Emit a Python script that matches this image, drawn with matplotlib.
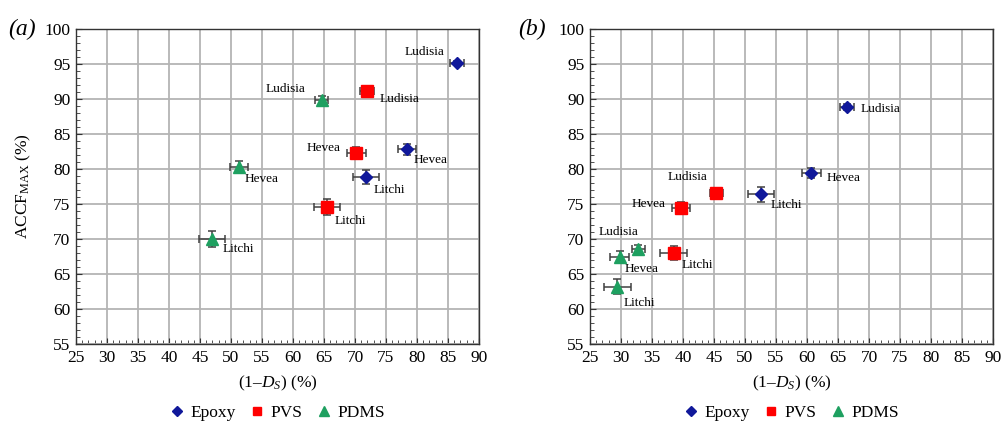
import matplotlib
matplotlib.use("Agg")
import matplotlib.pyplot as plt
from matplotlib.ticker import MultipleLocator
from matplotlib.lines import Line2D

plt.rcParams['font.family'] = ['Liberation Serif', 'DejaVu Serif']
plt.rcParams['mathtext.fontset'] = 'custom'
plt.rcParams['mathtext.rm'] = 'Liberation Serif'
plt.rcParams['mathtext.it'] = 'Liberation Serif:italic'

specimens = ['Ludisia', 'Hevea', 'Litchi']
materials = ['Epoxy', 'PVS', 'PDMS']

# Panel (a)
a_x = {'Epoxy': [86.5, 78.4, 71.8], 'PVS': [71.9, 70.2, 65.5], 'PDMS': [64.6, 51.3, 47.0]}
a_y = {'Epoxy': [95.1, 82.8, 78.8], 'PVS': [91.2, 82.3, 74.6], 'PDMS': [89.9, 80.3, 70.0]}
a_xerr = {'Epoxy': [1.1, 1.5, 2.15], 'PVS': [1.1, 1.5, 2.15], 'PDMS': [1.05, 1.5, 2.1]}
a_yerr = {'Epoxy': [0.3, 0.8, 1.0], 'PVS': [0.4, 0.8, 1.1], 'PDMS': [0.6, 0.8, 1.1]}

# Panel (b)
b_x = {'Epoxy': [66.4, 60.7, 52.6], 'PVS': [45.4, 39.6, 38.5], 'PDMS': [32.8, 29.8, 29.4]}
b_y = {'Epoxy': [88.9, 79.4, 76.4], 'PVS': [76.6, 74.5, 68.0], 'PDMS': [68.6, 67.4, 63.2]}
b_xerr = {'Epoxy': [1.1, 1.5, 2.1], 'PVS': [1.0, 1.45, 2.15], 'PDMS': [1.1, 1.5, 2.2]}
b_yerr = {'Epoxy': [0.4, 0.75, 1.1], 'PVS': [0.4, 0.75, 1.07], 'PDMS': [0.6, 0.85, 1.1]}

# label offsets in pixels (layout)
a_off = {'Epoxy': [(-33, 11), (24, -11), (23, -13)],
         'PVS': [(33, -8), (-33, 5), (23, -14)],
         'PDMS': [(-36, 11), (23, -12), (26, -10)]}
b_off = {'Epoxy': [(34, -2), (32, -5), (25, -11)],
         'PVS': [(-29, 16), (-32, 4), (24, -12)],
         'PDMS': [(-20, 17), (22, -12), (22, -16)]}

styles = {'Epoxy': dict(marker='D', color='#10189a', ms=6.5),
          'PVS': dict(marker='s', color='#ff0000', ms=8),
          'PDMS': dict(marker='^', color='#1ea060', ms=8.5)}

fig = plt.figure(figsize=(10.01, 4.25), dpi=100)
ax_a = fig.add_axes([76/1001, 1-344/425, 403/1001, 315/425])
ax_b = fig.add_axes([590/1001, 1-344/425, 403/1001, 315/425])


def draw(ax, X, Y, XE, YE, OFF, panel, ylabel):
    for m in materials:
        st = styles[m]
        ax.errorbar(X[m], Y[m], xerr=XE[m], yerr=YE[m], fmt='none',
                    ecolor='#404040', elinewidth=1.1, capsize=3, capthick=1.1, zorder=3)
        ax.plot(X[m], Y[m], linestyle='none', marker=st['marker'], color=st['color'],
                ms=st['ms'], zorder=4)
        for i, s in enumerate(specimens):
            ax.annotate(s, (X[m][i], Y[m][i]), xytext=OFF[m][i], textcoords='offset pixels',
                        ha='center', va='center', fontsize=9.5, zorder=5)
    ax.set_xlim(25, 90)
    ax.set_ylim(55, 100)
    ax.xaxis.set_major_locator(MultipleLocator(5))
    ax.yaxis.set_major_locator(MultipleLocator(5))
    ax.xaxis.set_minor_locator(MultipleLocator(1))
    ax.yaxis.set_minor_locator(MultipleLocator(1))
    ax.grid(True, which='major', color='#b4b4b4', linewidth=1.3)
    ax.set_axisbelow(True)
    ax.tick_params(which='major', direction='in', length=4, labelsize=12.5, pad=4, color='#333333')
    ax.tick_params(which='minor', direction='in', length=3, color='#333333')
    for sp in ax.spines.values():
        sp.set_color('#333333')
        sp.set_linewidth(1.0)
    ax.set_xlabel(r'(1–$D_S$) (%)', fontsize=12.5, labelpad=6)
    if ylabel:
        ax.set_ylabel(r'ACCF$_{\mathrm{MAX}}$ (%)', fontsize=12.5, labelpad=8)
    ax.text(-0.168 if ylabel else -0.178, 1.0, panel, transform=ax.transAxes, fontsize=17,
            style='italic', ha='left', va='center')
    handles = [Line2D([], [], linestyle='none', marker=styles[m]['marker'],
                      color=styles[m]['color'], ms=styles[m]['ms'] * 0.8) for m in materials]
    ax.legend(handles, materials, loc='upper center', bbox_to_anchor=(0.5, -0.165), ncol=3,
              frameon=False, fontsize=12.5, handlelength=0.8, handletextpad=0.4,
              columnspacing=0.8, borderpad=0)


draw(ax_a, a_x, a_y, a_xerr, a_yerr, a_off, '(a)', True)
draw(ax_b, b_x, b_y, b_xerr, b_yerr, b_off, '(b)', False)

fig.savefig('out.png', dpi=100)
